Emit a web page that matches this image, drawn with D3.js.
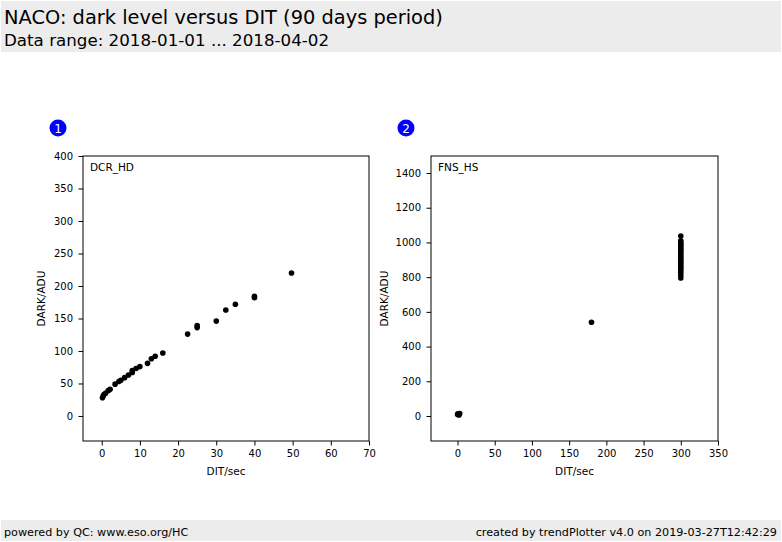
<!DOCTYPE html>
<html>
<head>
<meta charset="utf-8">
<script src="https://cdn.jsdelivr.net/npm/d3@7"></script>
<style>
  body { margin: 0; background: #fff; }
  svg { font-family: "DejaVu Sans", sans-serif; }
</style>
</head>
<body>
<svg width="782" height="542"></svg>
<script>
const width = 782;
const height = 542;

// panel 1: DCR_HD
const dcrDit = [0.2, 0.4, 0.6, 1, 1.7, 2.2, 3.5, 4.5, 5, 6, 7, 8, 8, 9, 10, 12, 13, 14, 16, 22.5, 25, 25, 30, 32.5, 35, 40, 40, 49.7];
const dcrDark = [28, 31, 33, 35, 39, 41, 49, 53, 55, 59, 63, 67, 70, 73, 76, 81, 88, 92, 97, 126, 136, 139, 146, 163, 172, 182, 184, 220];

// panel 2: FNS_HS
const fnsDit = [0.1, 0.5, 1, 2, 3, 180, 300, 300, 300, 300, 300, 300, 300, 300, 300, 300, 300, 300, 300, 300, 300, 300, 300, 300, 300, 300, 300, 300];
const fnsDark = [8, 12, 10, 6, 14, 540, 795, 810, 825, 840, 850, 860, 870, 880, 890, 900, 910, 920, 930, 940, 950, 960, 970, 980, 990, 1000, 1010, 1037];

const xTicks1 = [0, 10, 20, 30, 40, 50, 60, 70];
const yTicks1 = [0, 50, 100, 150, 200, 250, 300, 350, 400];
const xTicks2 = [0, 50, 100, 150, 200, 250, 300, 350];
const yTicks2 = [0, 200, 400, 600, 800, 1000, 1200, 1400];

const svg = d3.select("svg");

const drawHeader = () => {
  svg.append("rect").attr("x", 1).attr("y", 1).attr("width", 780).attr("height", 51).attr("fill", "#ececec");
  svg.append("text").attr("x", 4).attr("y", 24).attr("font-size", 19.4).attr("fill", "#000")
    .text("NACO: dark level versus DIT (90 days period)");
  svg.append("text").attr("x", 4).attr("y", 46).attr("font-size", 16.7).attr("fill", "#000")
    .text("Data range: 2018-01-01 ... 2018-04-02");

  svg.append("rect").attr("x", 1).attr("y", 520).attr("width", 780).attr("height", 21).attr("fill", "#ececec");
  svg.append("text").attr("x", 4).attr("y", 536).attr("font-size", 11.2).text("powered by QC: www.eso.org/HC");
  svg.append("text").attr("x", 777).attr("y", 536).attr("font-size", 11.2).attr("text-anchor", "end")
    .text("created by trendPlotter v4.0 on 2019-03-27T12:42:29");
};

const drawPanel = (p) => {
  const xScale = d3.scaleLinear().domain(p.xDomain).range([p.left, p.right]);
  const yScale = d3.scaleLinear().domain(p.yDomain).range([p.bottom, p.top]);

  const g = svg.append("g");

  // badge
  g.append("circle").attr("cx", p.left - 25).attr("cy", 128).attr("r", 8.5).attr("fill", "#0000ff");
  g.append("text").attr("x", p.left - 25).attr("y", 132.5).attr("font-size", 12).attr("fill", "#fff")
    .attr("text-anchor", "middle").text(p.num);

  const xAxis = d3.axisBottom(xScale).tickValues(p.xTicks).tickFormat(d3.format("d"))
    .tickSize(4.5).tickPadding(4).tickSizeOuter(0);
  g.append("g").attr("transform", `translate(0, ${p.bottom})`).call(xAxis)
    .call((a) => a.select(".domain").remove())
    .call((a) => a.selectAll("text").attr("font-size", 10).attr("font-family", "DejaVu Sans"));

  const yAxis = d3.axisLeft(yScale).tickValues(p.yTicks).tickFormat(d3.format("d"))
    .tickSize(4.5).tickPadding(5.5).tickSizeOuter(0);
  g.append("g").attr("transform", `translate(${p.left}, 0)`).call(yAxis)
    .call((a) => a.select(".domain").remove())
    .call((a) => a.selectAll("text").attr("font-size", 10).attr("font-family", "DejaVu Sans"));

  g.append("rect").attr("x", p.left).attr("y", p.top)
    .attr("width", p.right - p.left).attr("height", p.bottom - p.top)
    .attr("fill", "none").attr("stroke", "#000").attr("stroke-width", 1);

  g.selectAll("circle.pt")
    .data(p.xs.map((x, i) => [x, p.ys[i]]))
    .enter()
    .append("circle")
    .attr("class", "pt")
    .attr("cx", (d) => xScale(d[0]))
    .attr("cy", (d) => yScale(d[1]))
    .attr("r", 2.8)
    .attr("fill", "#000");

  g.append("text").attr("x", p.left + 7).attr("y", p.top + 15).attr("font-size", 10.5).text(p.label);

  g.append("text").attr("x", (p.left + p.right) / 2).attr("y", 475).attr("font-size", 10.5)
    .attr("text-anchor", "middle").text("DIT/sec");
  g.append("text").attr("transform", `translate(${p.left - p.yLabelOff}, ${(p.top + p.bottom) / 2}) rotate(-90)`)
    .attr("font-size", 10.5).attr("text-anchor", "middle").text("DARK/ADU");
};

drawHeader();
drawPanel({
  num: "1", label: "DCR_HD", xs: dcrDit, ys: dcrDark,
  left: 83, right: 369, top: 156, bottom: 441, yLabelOff: 38.5,
  xDomain: [-4.9, 70], yDomain: [-38.5, 400], xTicks: xTicks1, yTicks: yTicks1
});
drawPanel({
  num: "2", label: "FNS_HS", xs: fnsDit, ys: fnsDark,
  left: 431, right: 718, top: 156, bottom: 441, yLabelOff: 43,
  xDomain: [-35.6, 350], yDomain: [-144, 1498], xTicks: xTicks2, yTicks: yTicks2
});
</script>
</body>
</html>
